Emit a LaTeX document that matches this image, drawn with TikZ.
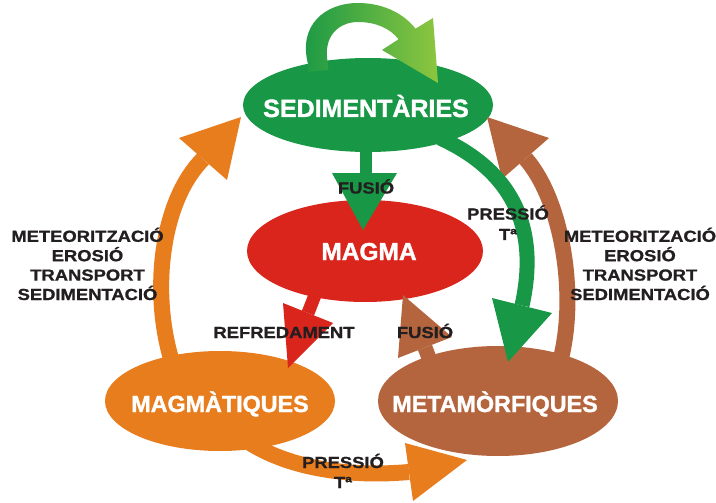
\documentclass[tikz,border=0pt]{standalone}
\usepackage{fontspec}
\setmainfont{Liberation Sans}
\newfontfamily\lblfont[FakeStretch=1.15,FakeBold=1]{Liberation Sans Bold}
\newfontfamily\rockfont[FakeBold=1.5]{Liberation Sans Bold}
\usetikzlibrary{shapes.geometric}
\definecolor{sedgreen}{RGB}{24,152,70}
\definecolor{lightgreen}{RGB}{141,198,63}
\definecolor{magred}{RGB}{218,37,29}
\definecolor{orng}{RGB}{232,125,30}
\definecolor{brwn}{RGB}{181,101,62}
\definecolor{txtblack}{RGB}{35,31,32}
\begin{document}
\begin{tikzpicture}[x=1pt,y=-1pt,
  rock/.style={ellipse, inner sep=0pt, draw=none},
  rocklabel/.style={text=white, anchor=base, inner sep=0pt},
  proc/.style={text=txtblack, font=\lblfont\fontsize{16}{20}\selectfont, align=center, inner sep=0pt, anchor=base},
  shaft/.style={line width=#1, line cap=butt},
]
\useasboundingbox[fill=white] (0,0) rectangle (716,503);

% rock ellipses
\node[rock, fill=sedgreen, minimum width=250pt, minimum height=94pt] (sed) at (368,105) {};
\node[rock, fill=magred, minimum width=236pt, minimum height=102pt] (magma) at (365,251) {};
\node[rock, fill=orng, minimum width=230pt, minimum height=100pt] (mgt) at (220,401) {};
\node[rock, fill=brwn, minimum width=240pt, minimum height=110pt] (met) at (498,401) {};

% named coordinates for connector ends
\coordinate (oL0) at (172,362);  \coordinate (oL1) at (203,159);
\coordinate (bR0) at (560,362);  \coordinate (bR1) at (525.5,158.5);
\coordinate (gP0) at (440,138);  \coordinate (gP1) at (522,305.5);
\coordinate (rF0) at (317,290);  \coordinate (rF1) at (308,313);
\coordinate (bF0) at (432,366);  \coordinate (bF1) at (425,347.5);
\coordinate (gF0) at (366,145);  \coordinate (gF1) at (366,174);
\coordinate (oB0) at (250,443);  \coordinate (oB1) at (409,472);

% top loop arrow (sedimentaries -> sedimentaries)
\shade[left color=sedgreen, right color=lightgreen]
  (308,72) -- (308,64) .. controls (298,25) and (325,3) .. (358,3)
  .. controls (385,3) and (405,15) .. (415.5,28.7) -- (433,18) -- (438,83)
  -- (382,50) -- (398.5,39.3) .. controls (390,28) and (375,22) .. (358,22)
  .. controls (340,22) and (322,35) .. (328,64) -- (328,70) -- cycle;

% orange: magmatiques -> sedimentaries
\draw[orng, shaft=16pt] (oL0) .. controls (150,290) and (162,200) .. (oL1);
\fill[orng] (179,138) -- (241,117) -- (227,180) -- cycle;

% brown: metamorfiques -> sedimentaries
\draw[brwn, shaft=16pt] (bR0) .. controls (578,295) and (562,200) .. (bR1);
\fill[brwn] (549,138) -- (487,117) -- (502,179) -- cycle;

% green: sedimentaries -> metamorfiques
\draw[sedgreen, shaft=15pt] (gP0) .. controls (510,170) and (540,225) .. (gP1);
\fill[sedgreen] (492,298) -- (508,362) -- (552,313) -- cycle;

% green: sedimentaries -> magma
\draw[sedgreen, shaft=12pt] (gF0) -- (gF1);
\fill[sedgreen] (332,173) -- (397,173) -- (363,230) -- cycle;

% red: magma -> magmatiques
\draw[magred, shaft=13pt] (rF0) -- (rF1);
\fill[magred] (283,303) -- (333,323) -- (288,368) -- cycle;

% brown: metamorfiques -> magma
\draw[brwn, shaft=15pt] (bF0) -- (bF1);
\fill[brwn] (398,358) -- (452,337) -- (403,295) -- cycle;

% orange: magmatiques -> metamorfiques
\draw[orng, shaft=16pt] (oB0) .. controls (285,465) and (340,478) .. (oB1);
\fill[orng] (405,443) -- (467,460) -- (413,501) -- cycle;

% rock labels
\node[rocklabel, font=\rockfont\fontsize{25}{30}\selectfont] (sedt) at (366,117) {SEDIMENTÀRIES};
\node[rocklabel, font=\rockfont\fontsize{24.5}{30}\selectfont] (magt) at (369,260) {MAGMA};
\node[rocklabel, font=\rockfont\fontsize{23.3}{28}\selectfont] (mgtt) at (220,412) {MAGMÀTIQUES};
\node[rocklabel, font=\rockfont\fontsize{23.3}{28}\selectfont] (mett) at (495,412) {METAMÒRFIQUES};

% process labels (multi-line nodes: base = last line)
\node[proc] (fus1) at (366,193.5) {FUSIÓ};
\node[proc, font=\lblfont\fontsize{16}{20.5}\selectfont] (pres1) at (508,240) {PRESSIÓ\\Tª};
\node[proc] (refr) at (284,338) {REFREDAMENT};
\node[proc] (fus2) at (425,338) {FUSIÓ};
\node[proc] (pres2) at (343,488) {PRESSIÓ\\Tª};
\node[proc, font=\lblfont\fontsize{16}{19.4}\selectfont] (metL) at (87.5,300) {METEORITZACIÓ\\EROSIÓ\\TRANSPORT\\SEDIMENTACIÓ};
\node[proc, font=\lblfont\fontsize{16}{19.4}\selectfont] (metR) at (640,300) {METEORITZACIÓ\\EROSIÓ\\TRANSPORT\\SEDIMENTACIÓ};
\end{tikzpicture}
\end{document}
